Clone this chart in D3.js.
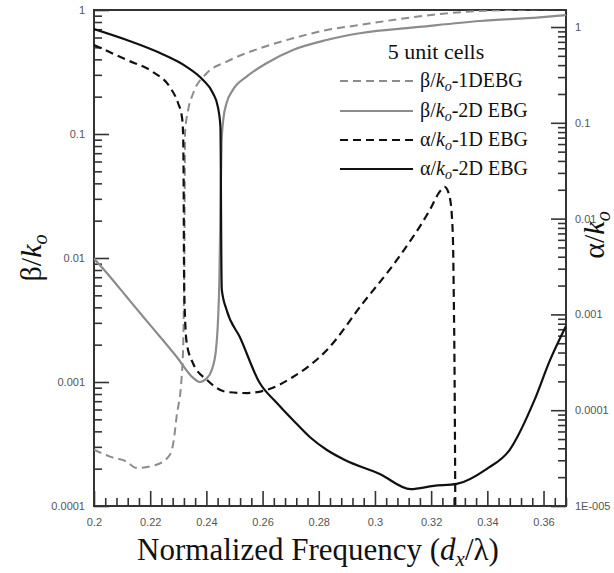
<!DOCTYPE html>
<html><head><meta charset="utf-8">
<script src="https://cdn.jsdelivr.net/npm/d3@7"></script>
<style>body{margin:0;background:#fff}</style>
</head><body>
<svg id="c" width="614" height="573"></svg>
<script>
// ---- data ----
const freqTicks = [0.2,0.22,0.24,0.26,0.28,0.3,0.32,0.34,0.36];
const freqTickLabels = ["0.2","0.22","0.24","0.26","0.28","0.3","0.32","0.34","0.36"];
const betaTicks = [1,0.1,0.01,0.001,0.0001];
const betaTickLabels = ["1","0.1","0.01","0.001","0.0001"];
const alphaTicks = [1,0.1,0.01,0.001,0.0001,0.00001];
const alphaTickLabels = ["1","0.1","0.01","0.001","0.0001","1E-005"];

// beta/ko - 1D EBG (left axis)
const beta1D_f = [0.2000,0.2057,0.2116,0.2151,0.2220,0.2272,0.2284,0.2294,0.2312,0.2318,0.2320,0.2322,0.2324,0.2335,0.2353,0.2401,0.2472,0.2590,0.2708,0.2828,0.2946,0.3088,0.3230,0.3373,0.3680];
const beta1D_v = [2.85e-4,2.50e-4,2.28e-4,2.03e-4,2.14e-4,2.63e-4,3.4e-4,5.25e-4,1.10e-3,2.18e-3,4.58e-3,0.0116,0.102,0.156,0.213,0.309,0.383,0.491,0.591,0.690,0.757,0.846,0.928,0.982,1.02];
// beta/ko - 2D EBG (left axis)
const beta2D_f = [0.2000,0.2057,0.2116,0.2175,0.2235,0.2294,0.2353,0.2377,0.2401,0.2419,0.2434,0.2442,0.2446,0.2448,0.2454,0.2460,0.2472,0.2494,0.2543,0.2614,0.2708,0.2828,0.2946,0.3159,0.3373,0.3586,0.3680];
const beta2D_v = [0.0099,0.00707,0.00487,0.00336,0.00232,0.00160,0.00108,0.00100,0.00107,0.00125,0.00181,0.00336,0.00629,0.0116,0.0846,0.130,0.178,0.226,0.290,0.372,0.476,0.573,0.649,0.730,0.815,0.873,0.911];
// alpha/ko - 1D EBG (right axis)
const alpha1D_f = [0.2000,0.2117,0.2210,0.2270,0.2299,0.2313,0.2317,0.2319,0.2320,0.2322,0.2330,0.2352,0.2402,0.2473,0.2544,0.2615,0.2708,0.2829,0.2957,0.3078,0.3195,0.3230,0.3248,0.3266,0.3277,0.3280,0.3284,0.3286];
const alpha1D_v = [0.649,0.453,0.339,0.236,0.161,0.115,0.0783,0.0253,0.0047,0.00141,5.03e-4,3.11e-4,2.07e-4,1.55e-4,1.51e-4,1.63e-4,2.22e-4,4.25e-4,1.31e-3,3.70e-3,0.0123,0.0190,0.0214,0.0168,0.00707,0.00213,1.28e-4,1.0e-5];
// alpha/ko - 2D EBG (right axis)
const alpha2D_f = [0.2000,0.2117,0.2235,0.2331,0.2388,0.2423,0.2441,0.2450,0.2451,0.2452,0.2453,0.2455,0.2472,0.2519,0.2590,0.2651,0.2708,0.2768,0.2829,0.2893,0.3017,0.3127,0.3209,0.3291,0.3397,0.3479,0.3568,0.3622,0.3680];
const alpha2D_v = [0.953,0.732,0.535,0.382,0.280,0.205,0.146,0.0904,0.0520,0.0156,0.0047,0.0018,0.00111,5.8e-4,1.92e-4,1.19e-4,7.9e-5,5.25e-5,3.84e-5,3.02e-5,2.16e-5,1.50e-5,1.62e-5,1.70e-5,2.43e-5,3.84e-5,1.28e-4,3.27e-4,7.57e-4];

const legendNames = ["-1DEBG","-2D EBG","-1D EBG","-2D EBG"];
const legendSymbols = ["β","β","α","α"];

// ---- layout ----
const svg = d3.select("#c");
const L=94, R=566, T=10, B=506;
const x = d3.scaleLinear().domain([0.2,0.368]).range([L,R]);
const yL = d3.scaleLog().domain([1e-4,1]).range([B,T]);
const yR = d3.scaleLog().domain([1e-5,1.505]).range([B,T]);

const axisColor="#333";
svg.append("defs").append("clipPath").attr("id","clip")
  .append("rect").attr("x",L).attr("y",T).attr("width",R-L).attr("height",B-T);

function minorLog(lo,hi){const out=[];for(let e=Math.round(Math.log10(lo));e<Math.round(Math.log10(hi))+1;e++){for(let k=2;k<=9;k++){const v=k*Math.pow(10,e);if(v>lo&&v<hi)out.push(v);}}return out;}

function styleAxis(g){g.select(".domain").remove();g.selectAll(".tick line").attr("stroke",axisColor).attr("stroke-width",1.6);
  g.selectAll(".tick text").attr("font-family","'Liberation Sans',Arial,sans-serif").attr("font-size","11px").attr("fill","#555");}

// left axis
svg.append("g").attr("transform",`translate(${L},0)`)
  .call(d3.axisLeft(yL).tickValues(betaTicks).tickFormat((d,i)=>betaTickLabels[i]).tickSizeInner(-15).tickSizeOuter(0).tickPadding(9)).call(styleAxis);
svg.append("g").attr("transform",`translate(${L},0)`)
  .call(d3.axisLeft(yL).tickValues(minorLog(1e-4,1)).tickFormat("").tickSizeInner(-8).tickSizeOuter(0)).call(styleAxis);
// right axis
svg.append("g").attr("transform",`translate(${R},0)`)
  .call(d3.axisRight(yR).tickValues(alphaTicks).tickFormat((d,i)=>alphaTickLabels[i]).tickSizeInner(-15).tickSizeOuter(0).tickPadding(9)).call(styleAxis);
svg.append("g").attr("transform",`translate(${R},0)`)
  .call(d3.axisRight(yR).tickValues(minorLog(1e-5,1.505)).tickFormat("").tickSizeInner(-8).tickSizeOuter(0)).call(styleAxis);
// bottom axis
svg.append("g").attr("transform",`translate(0,${B})`)
  .call(d3.axisBottom(x).tickValues(freqTicks).tickFormat((d,i)=>freqTickLabels[i]).tickSizeInner(-15).tickSizeOuter(0).tickPadding(12)).call(styleAxis);
const minorF = d3.range(0,43).map(i=>0.2+i*0.004).filter(v=>freqTicks.every(t=>Math.abs(t-v)>1e-6));
svg.append("g").attr("transform",`translate(0,${B})`)
  .call(d3.axisBottom(x).tickValues(minorF).tickFormat("").tickSizeInner(-8).tickSizeOuter(0)).call(styleAxis);

// frame
svg.append("rect").attr("x",L).attr("y",T).attr("width",R-L).attr("height",B-T)
  .attr("fill","none").attr("stroke",axisColor).attr("stroke-width",2);

// curves
const series = [
  {f:beta1D_f, v:beta1D_v, y:yL, color:"#8c8c8c", dash:"8,5", w:2},
  {f:beta2D_f, v:beta2D_v, y:yL, color:"#8c8c8c", dash:null, w:2.2},
  {f:alpha1D_f, v:alpha1D_v, y:yR, color:"#111", dash:"8,5", w:2.2},
  {f:alpha2D_f, v:alpha2D_v, y:yR, color:"#111", dash:null, w:2.2}
];
const plot = svg.append("g").attr("clip-path","url(#clip)");
series.forEach(s=>{
  const pts = s.f.map((f,i)=>[f,s.v[i]]);
  const line = d3.line().x(d=>x(d[0])).y(d=>s.y(d[1])).curve(d3.curveMonotoneX);
  plot.append("path").attr("d",line(pts)).attr("fill","none").attr("stroke",s.color)
    .attr("stroke-width",s.w).attr("stroke-dasharray",s.dash);
});

// legend
const serif="'Liberation Serif','Times New Roman',serif";
svg.append("text").attr("x",436).attr("y",59).attr("text-anchor","middle")
  .attr("font-family",serif).attr("font-size","22px").attr("fill","#111").text("5 unit cells");
const rowY=[81,111,140,169];
series.forEach((s,i)=>{
  svg.append("line").attr("x1",340).attr("x2",413).attr("y1",rowY[i]).attr("y2",rowY[i])
    .attr("stroke",s.color).attr("stroke-width",s.w).attr("stroke-dasharray",s.dash);
  const t = svg.append("text").attr("x",420).attr("y",rowY[i]+6).attr("font-family",serif)
    .attr("font-size","20px").attr("fill","#111");
  t.append("tspan").text(legendSymbols[i]+"/");
  t.append("tspan").attr("font-style","italic").text("k");
  t.append("tspan").attr("font-style","italic").attr("font-size","14px").attr("dy",4).text("o");
  t.append("tspan").attr("dy",-4).text(legendNames[i]);
});

// axis titles
function ratioTitle(g,sym){
  const t=g.append("text").attr("font-family",serif).attr("font-size","30px").attr("fill","#111").attr("text-anchor","middle");
  t.append("tspan").text(sym+"/");
  t.append("tspan").attr("font-style","italic").text("k");
  t.append("tspan").attr("font-style","italic").attr("font-size","20px").attr("dy",6).text("o");
  return t;
}
ratioTitle(svg.append("g").attr("transform","translate(41,258) rotate(-90)"),"β");
ratioTitle(svg.append("g").attr("transform","translate(604,235) rotate(-90)"),"α");

const xt = svg.append("text").attr("x",318).attr("y",560).attr("text-anchor","middle")
  .attr("font-family",serif).attr("font-size","31px").attr("fill","#111");
xt.append("tspan").text("Normalized Frequency (");
xt.append("tspan").attr("font-style","italic").text("d");
xt.append("tspan").attr("font-style","italic").attr("font-size","21px").attr("dy",6).text("x");
xt.append("tspan").attr("dy",-6).text("/λ)");
</script>
</body></html>
